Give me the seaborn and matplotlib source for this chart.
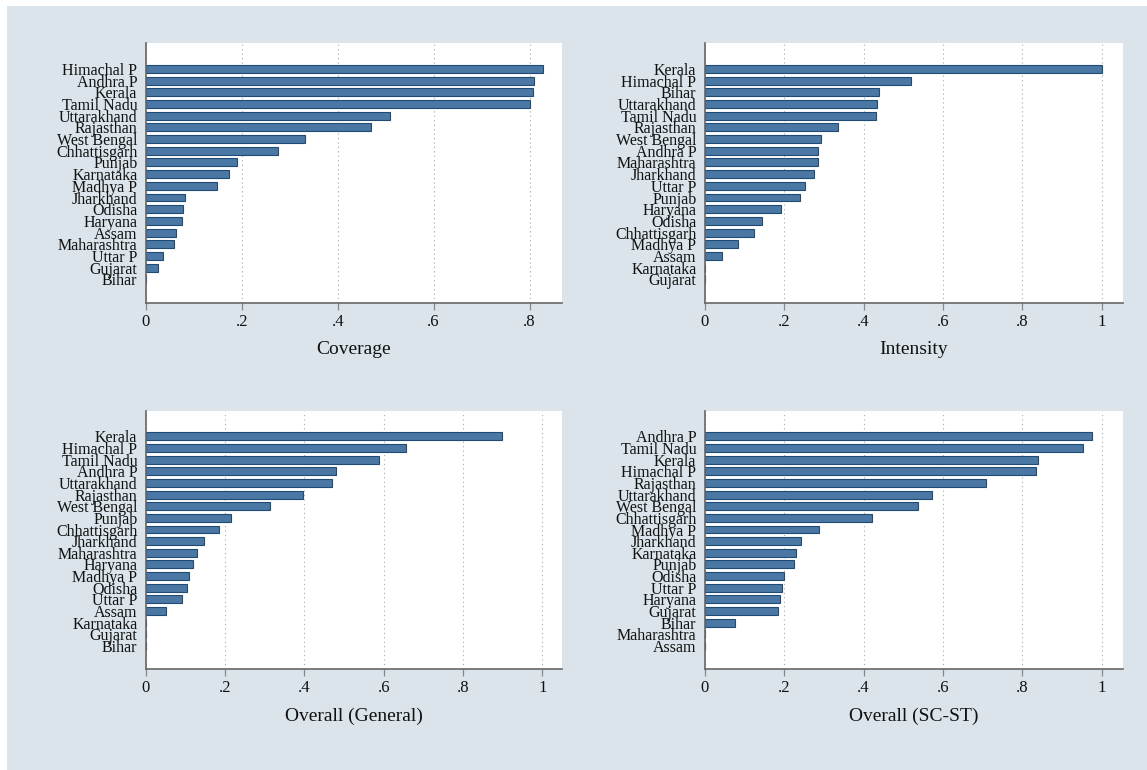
import matplotlib
matplotlib.use("Agg")
import matplotlib.pyplot as plt
import seaborn as sns
import pandas as pd
from matplotlib.ticker import FuncFormatter, MultipleLocator

# Data (states already sorted as in each panel)
coverage_states = ["Himachal P", "Andhra P", "Kerala", "Tamil Nadu", "Uttarakhand",
                   "Rajasthan", "West Bengal", "Chhattisgarh", "Punjab", "Karnataka",
                   "Madhya P", "Jharkhand", "Odisha", "Haryana", "Assam",
                   "Maharashtra", "Uttar P", "Gujarat", "Bihar"]
coverage_vals = [0.827, 0.810, 0.807, 0.800, 0.510, 0.469, 0.331, 0.276, 0.191, 0.174,
                 0.148, 0.081, 0.078, 0.075, 0.062, 0.058, 0.035, 0.025, 0.0]

intensity_states = ["Kerala", "Himachal P", "Bihar", "Uttarakhand", "Tamil Nadu",
                    "Rajasthan", "West Bengal", "Andhra P", "Maharashtra", "Jharkhand",
                    "Uttar P", "Punjab", "Haryana", "Odisha", "Chhattisgarh",
                    "Madhya P", "Assam", "Karnataka", "Gujarat"]
intensity_vals = [1.0, 0.520, 0.438, 0.433, 0.432, 0.335, 0.294, 0.286, 0.285, 0.275,
                  0.253, 0.239, 0.191, 0.143, 0.123, 0.083, 0.043, 0.0, 0.0]

general_states = ["Kerala", "Himachal P", "Tamil Nadu", "Andhra P", "Uttarakhand",
                  "Rajasthan", "West Bengal", "Punjab", "Chhattisgarh", "Jharkhand",
                  "Maharashtra", "Haryana", "Madhya P", "Odisha", "Uttar P",
                  "Assam", "Karnataka", "Gujarat", "Bihar"]
general_vals = [0.899, 0.656, 0.588, 0.480, 0.470, 0.396, 0.312, 0.214, 0.184, 0.148,
                0.129, 0.119, 0.110, 0.105, 0.092, 0.051, 0.0, 0.0, 0.0]

scst_states = ["Andhra P", "Tamil Nadu", "Kerala", "Himachal P", "Rajasthan",
               "Uttarakhand", "West Bengal", "Chhattisgarh", "Madhya P", "Jharkhand",
               "Karnataka", "Punjab", "Odisha", "Uttar P", "Haryana",
               "Gujarat", "Bihar", "Maharashtra", "Assam"]
scst_vals = [0.974, 0.952, 0.839, 0.835, 0.708, 0.572, 0.537, 0.421, 0.288, 0.243,
             0.229, 0.224, 0.199, 0.194, 0.189, 0.184, 0.075, 0.0, 0.0]

panels = [
    ("Coverage", coverage_states, coverage_vals, 0.868),
    ("Intensity", intensity_states, intensity_vals, 1.052),
    ("Overall (General)", general_states, general_vals, 1.050),
    ("Overall (SC-ST)", scst_states, scst_vals, 1.052),
]

sns.set_theme(style="white")
plt.rcParams['font.family'] = ['Liberation Serif', 'DejaVu Serif']
plt.rcParams['text.color'] = '#111111'
plt.rcParams['axes.labelcolor'] = '#111111'
plt.rcParams['xtick.color'] = '#111111'
plt.rcParams['ytick.color'] = '#111111'

BG = "#dae4ea"
BAR = "#4a77a3"
EDGE = "#1f4b75"

fig = plt.figure(figsize=(11.47, 7.70), dpi=100, facecolor="white")
# Stata-like graph region (leaves a thin white strip on top/left)
fig.patches.append(plt.Rectangle((7 / 1147, 0), 1, 1 - 6 / 770, transform=fig.transFigure,
                                 facecolor=BG, edgecolor="none", zorder=-10))

positions = [
    [0.1271, 0.6069, 0.3631, 0.3369],
    [0.6144, 0.6069, 0.3643, 0.3369],
    [0.1271, 0.1308, 0.3631, 0.3358],
    [0.6144, 0.1308, 0.3643, 0.3358],
]

for (title, states, vals, xmax), pos in zip(panels, positions):
    ax = fig.add_axes(pos)
    df = pd.DataFrame({"state": states, "value": vals})
    sns.barplot(data=df, x="value", y="state", orient="h", order=states, ax=ax,
                color=BAR, edgecolor=EDGE, linewidth=0.8, width=0.68, saturation=1)
    ax.set_facecolor("white")
    ax.set_xlim(0, xmax)
    ax.set_ylim(len(states) - 1 + 2.0, -2.2)
    ax.xaxis.set_major_locator(MultipleLocator(0.2))
    ax.xaxis.set_major_formatter(FuncFormatter(
        lambda v, p: "0" if abs(v) < 1e-9 else ("1" if abs(v - 1) < 1e-9 else ("%.1f" % v)[1:])))
    ax.grid(axis="x", linestyle=(0, (1, 3)), color="#a8a8a8", linewidth=0.8)
    ax.grid(axis="y", visible=False)
    ax.set_axisbelow(True)
    for side in ["top", "right"]:
        ax.spines[side].set_visible(False)
    for side in ["left", "bottom"]:
        ax.spines[side].set_color("#666666")
        ax.spines[side].set_linewidth(1.2)
    ax.tick_params(axis="x", direction="out", length=5, width=0.9, color="#888888",
                   labelsize=12, pad=3, bottom=True)
    ax.tick_params(axis="y", length=0, labelsize=11.5, pad=6)
    ax.set_ylabel("")
    ax.set_xlabel(title, fontsize=14, labelpad=8)

fig.savefig("out.png", dpi=100, facecolor="white")
